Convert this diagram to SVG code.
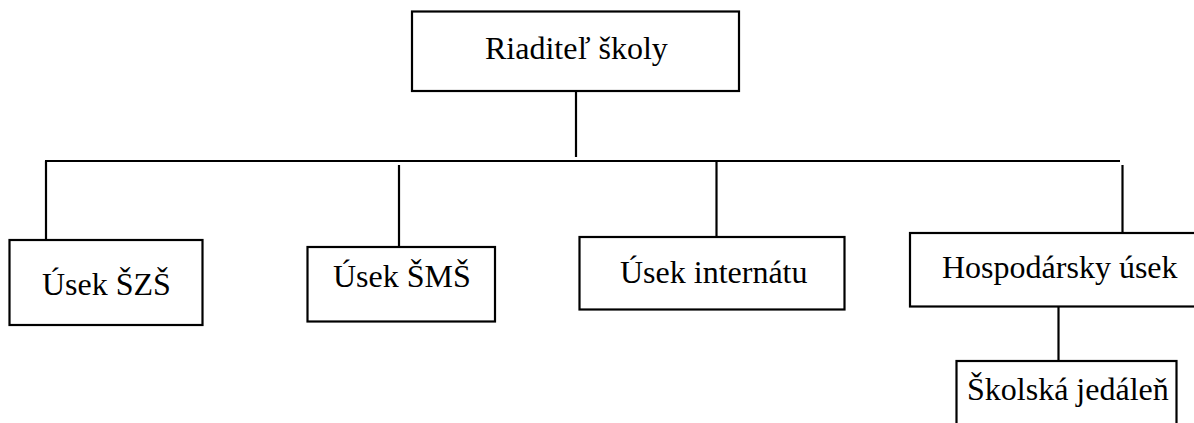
<svg xmlns="http://www.w3.org/2000/svg" width="1194" height="423" viewBox="0 0 1194 423">
<style>
.box{fill:#fff;stroke:#000;stroke-width:2.2}
.ln{stroke:#000;stroke-width:2.2;fill:none}
.t{font-family:"Liberation Serif","Times New Roman",serif;font-size:32px;fill:#000}
</style>
<rect width="1194" height="423" fill="#fff"/>
<g id="connectors">
<line class="ln" x1="576" y1="91" x2="576" y2="157"/>
<line class="ln" x1="45" y1="161" x2="1120" y2="161"/>
<line class="ln" x1="46" y1="161" x2="46" y2="240"/>
<line class="ln" x1="399" y1="165" x2="399" y2="247"/>
<line class="ln" x1="716.5" y1="161" x2="716.5" y2="237"/>
<line class="ln" x1="1122.5" y1="165" x2="1122.5" y2="233"/>
<line class="ln" x1="1058.5" y1="306.5" x2="1058.5" y2="361"/>
</g>
<g id="riaditel">
<rect class="box" x="412" y="11.5" width="327" height="79.5"/>
<text class="t" x="485" y="59">Riaditeľ školy</text>
</g>
<g id="szs">
<rect class="box" x="9.5" y="240" width="193" height="85"/>
<text class="t" x="42" y="295">Úsek ŠZŠ</text>
</g>
<g id="sms">
<rect class="box" x="307.5" y="247" width="187.5" height="74.5"/>
<text class="t" x="333" y="287">Úsek ŠMŠ</text>
</g>
<g id="internat">
<rect class="box" x="579.5" y="237" width="265" height="72.5"/>
<text class="t" x="620" y="283">Úsek internátu</text>
</g>
<g id="hospodarsky">
<rect class="box" x="910" y="233" width="300" height="73.5"/>
<text class="t" x="942" y="278">Hospodársky úsek</text>
</g>
<g id="jedalen">
<rect class="box" x="956.5" y="361" width="220" height="80"/>
<text class="t" x="967" y="400">Školská jedáleň</text>
</g>
</svg>
